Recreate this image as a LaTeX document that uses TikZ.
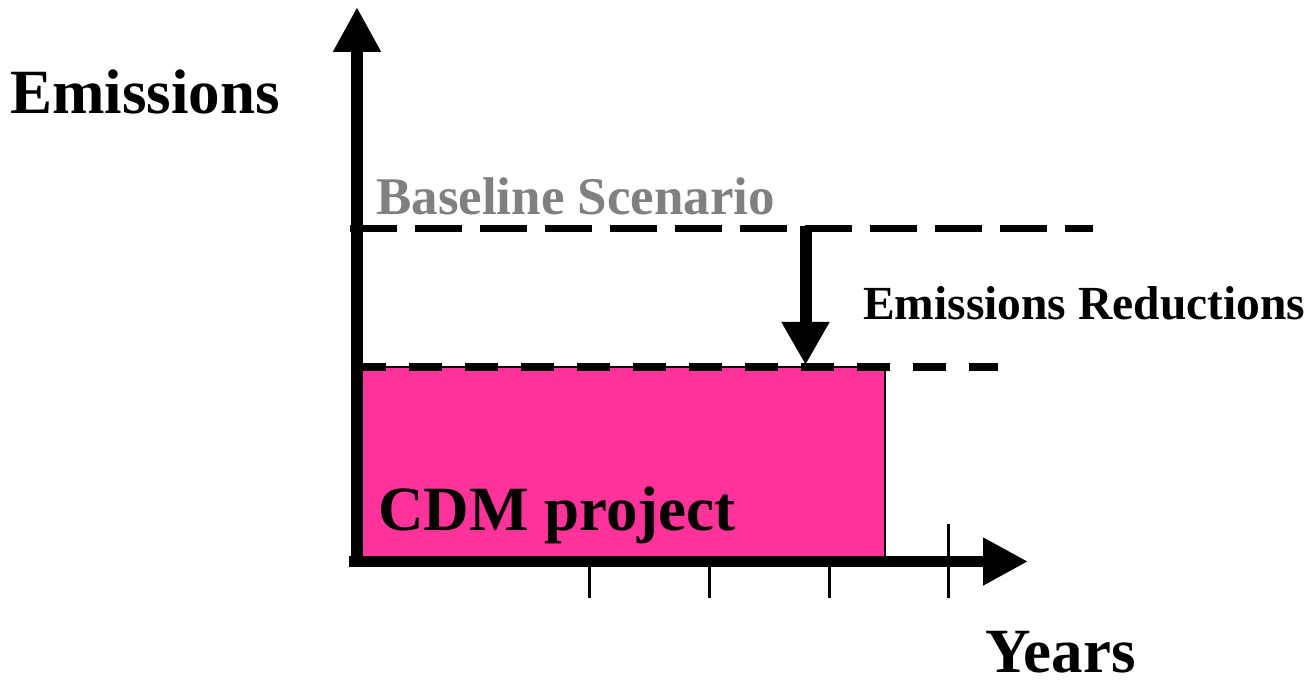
\documentclass[tikz,border=0pt]{standalone}
\usepackage{fontspec}
\setmainfont{Liberation Serif}
\usetikzlibrary{arrows.meta}
\definecolor{cdmpink}{RGB}{255,51,153}
\definecolor{basegray}{RGB}{128,128,128}
\begin{document}
\begin{tikzpicture}[x=1pt,y=-1pt,
  axisline/.style={line width=12pt,line cap=butt,-{Triangle[length=45pt,width=45pt]}},
  tickline/.style={line width=3pt},
  baseline dash/.style={line width=7pt,dash pattern=on 47pt off 18pt},
  project dash/.style={line width=7.5pt,dash pattern=on 33pt off 23pt},
  label/.style={anchor=base west,inner sep=0pt,font=\bfseries},
  big/.style={font=\fontsize{63}{63}\selectfont\bfseries}]
\useasboundingbox (0,0) rectangle (1309,684);
% project area
\fill[cdmpink] (363,367) rectangle (885,556);
\draw[line width=2pt] (363,367) -- (885,367) -- (885,556);
% dashed levels
\coordinate (bl0) at (350,229);
\coordinate (bl1) at (1093,229);
\coordinate (pl0) at (353,367);
\coordinate (pl1) at (998,367);
\draw[baseline dash] (bl0) -- (bl1);
\draw[project dash] (pl0) -- (pl1);
% axes
\coordinate (origin) at (357,567);
\coordinate (ytip) at (357,7);
\coordinate (xstart) at (349,561.5);
\coordinate (xtip) at (1028,561.5);
\draw[axisline] (origin) -- (ytip);
\draw[axisline,line width=11pt] (xstart) -- (xtip);
% ticks
\coordinate (t1a) at (589,561); \coordinate (t1b) at (589,598);
\coordinate (t2a) at (709,561); \coordinate (t2b) at (709,598);
\coordinate (t3a) at (829,561); \coordinate (t3b) at (829,598);
\coordinate (t4a) at (948,524); \coordinate (t4b) at (948,598);
\draw[tickline] (t1a) -- (t1b);
\draw[tickline] (t2a) -- (t2b);
\draw[tickline] (t3a) -- (t3b);
\draw[tickline] (t4a) -- (t4b);
% reduction arrow
\coordinate (redtop) at (805.5,226);
\coordinate (redbot) at (805.5,365);
\draw[line width=12pt,-{Triangle[length=43pt,width=45pt]}] (redtop) -- (redbot);
% texts
\node[label,big] (ylab) at (10,114) {Emissions};
\node[label,big] (xlab) at (985,672) {Years};
\node[label,big] (cdm) at (378,530) {CDM project};
\node[label,text=basegray,font=\fontsize{53}{53}\selectfont\bfseries] (base) at (376,215) {Baseline Scenario};
\node[label,font=\fontsize{47.5}{47.5}\selectfont\bfseries] (red) at (863,320) {Emissions Reductions};
\end{tikzpicture}
\end{document}
